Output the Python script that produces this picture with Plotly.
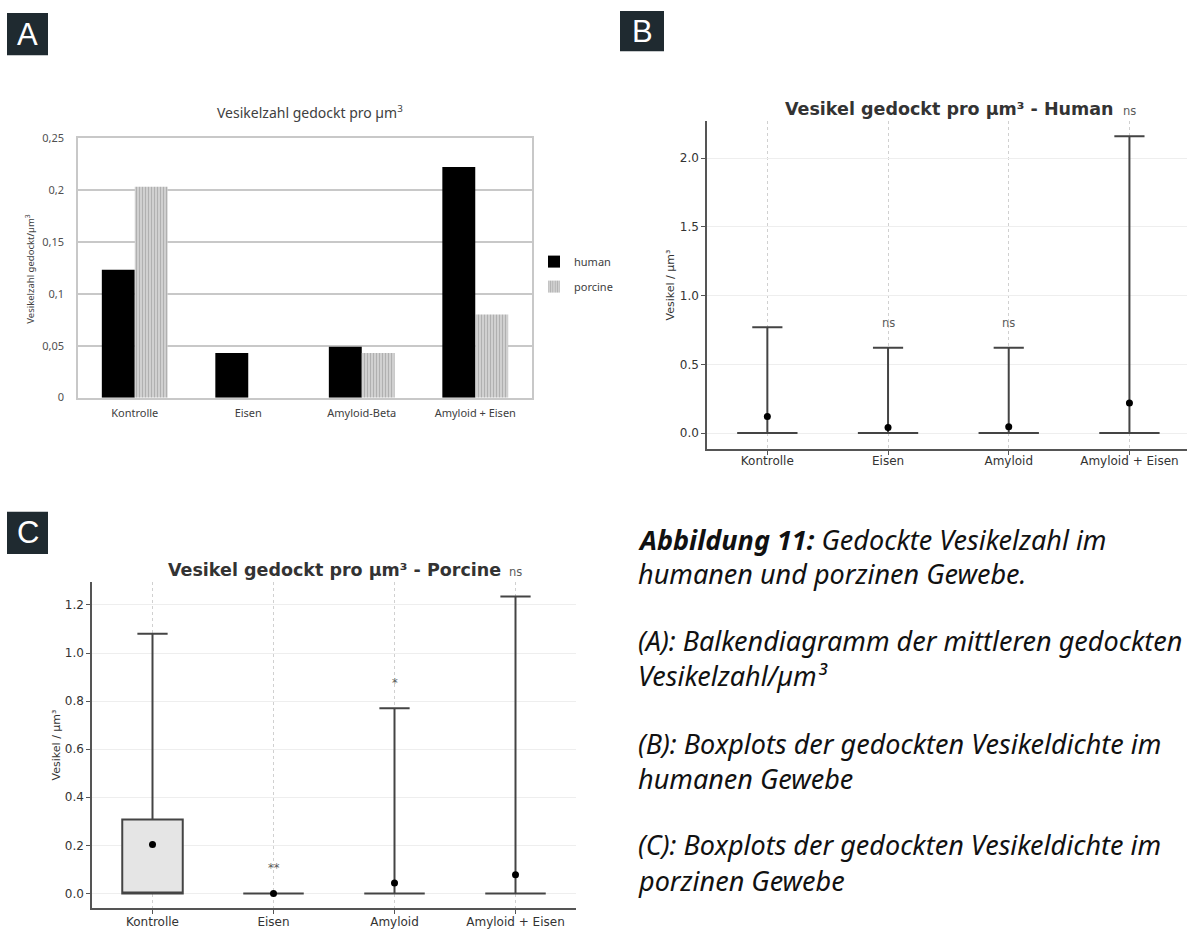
import plotly.graph_objects as go

W, H = 1187, 933

# ---------------- data ----------------
# Panel A: bar chart of mean docked vesicles per µm³
a_categories = ["Kontrolle", "Eisen", "Amyloid-Beta", "Amyloid + Eisen"]
a_human = [0.123, 0.043, 0.049, 0.222]
a_porcine = [0.203, 0.0, 0.043, 0.080]
a_tickvals = [0, 0.05, 0.1, 0.15, 0.2, 0.25]
a_ticktext = ["0", "0,05", "0,1", "0,15", "0,2", "0,25"]

# Panel B: human boxplots (precomputed statistics)
box_categories = ["Kontrolle", "Eisen", "Amyloid", "Amyloid + Eisen"]
b_q1 = [0.0, 0.0, 0.0, 0.0]
b_median = [0.0, 0.0, 0.0, 0.0]
b_q3 = [0.0, 0.0, 0.0, 0.0]
b_lower = [0.0, 0.0, 0.0, 0.0]
b_upper = [0.77, 0.62, 0.62, 2.16]
b_mean = [0.12, 0.04, 0.045, 0.218]
b_sig = ["", "ns", "ns", "ns"]

# Panel C: porcine boxplots (precomputed statistics)
c_q1 = [0.0, 0.0, 0.0, 0.0]
c_median = [0.0, 0.0, 0.0, 0.0]
c_q3 = [0.307, 0.0, 0.0, 0.0]
c_lower = [0.0, 0.0, 0.0, 0.0]
c_upper = [1.08, 0.0, 0.77, 1.235]
c_mean = [0.203, 0.0, 0.043, 0.078]
c_sig = ["", "**", "*", "ns"]

caption_lines = [
    "<b><i>Abbildung 11:</i></b><i> Gedockte Vesikelzahl im</i>",
    "<i>humanen und porzinen Gewebe.</i>",
    "<i>(A): Balkendiagramm der mittleren gedockten</i>",
    "<i>Vesikelzahl/µm³</i>",
    "<i>(B): Boxplots der gedockten Vesikeldichte im</i>",
    "<i>humanen Gewebe</i>",
    "<i>(C): Boxplots der gedockten Vesikeldichte im</i>",
    "<i>porzinen Gewebe</i>",
]
caption_y_px = [540, 575, 643, 678, 748, 783, 850, 887]


def fx(p):
    return p / W


def fy(p):
    return 1 - p / H


fig = go.Figure()

# ---------------- Panel A ----------------
fig.add_trace(go.Bar(
    x=a_categories, y=a_human, name="human",
    marker=dict(color="#000000", line=dict(width=0)),
    xaxis="x", yaxis="y", legendgroup="h", hoverinfo="skip",
))
fig.add_trace(go.Bar(
    x=a_categories, y=a_porcine, name="porcine",
    marker=dict(color="#d4d4d4", line=dict(width=0),
                pattern=dict(shape="|", fgcolor="#8c8c8c", bgcolor="#d4d4d4",
                             size=3, solidity=0.4)),
    xaxis="x", yaxis="y", legendgroup="p", hoverinfo="skip",
))

# ---------------- Panel B ----------------
box_line = dict(color="#444444", width=2)
fig.add_trace(go.Box(
    x=box_categories, q1=b_q1, median=b_median, q3=b_q3,
    lowerfence=b_lower, upperfence=b_upper,
    width=0.5, whiskerwidth=0.5, line=box_line, fillcolor="#e5e5e5",
    boxpoints=False, showlegend=False, hoverinfo="skip",
    xaxis="x2", yaxis="y2",
))
fig.add_trace(go.Scatter(
    x=box_categories, y=b_mean, mode="markers",
    marker=dict(color="#000000", size=7), showlegend=False, hoverinfo="skip",
    xaxis="x2", yaxis="y2",
))

# ---------------- Panel C ----------------
fig.add_trace(go.Box(
    x=box_categories, q1=c_q1, median=c_median, q3=c_q3,
    lowerfence=c_lower, upperfence=c_upper,
    width=0.5, whiskerwidth=0.5, line=box_line, fillcolor="#e5e5e5",
    boxpoints=False, showlegend=False, hoverinfo="skip",
    xaxis="x3", yaxis="y3",
))
fig.add_trace(go.Scatter(
    x=box_categories, y=c_mean, mode="markers",
    marker=dict(color="#000000", size=7), showlegend=False, hoverinfo="skip",
    xaxis="x3", yaxis="y3",
))

annotations = []

sig_font = dict(family="DejaVu Sans", size=11.5, color="#5a5a5a")
for cat, top, s in zip(box_categories, b_upper, b_sig):
    if s:
        annotations.append(dict(x=cat, y=top, xref="x2", yref="y2", text=s,
                                showarrow=False, yshift=25, yanchor="middle", font=sig_font))
for cat, top, s in zip(box_categories, c_upper, c_sig):
    if s:
        annotations.append(dict(x=cat, y=top, xref="x3", yref="y3", text=s,
                                showarrow=False, yshift=25, yanchor="middle", font=sig_font))

# titles
annotations.append(dict(x=fx(310), y=fy(106), xref="paper", yref="paper",
                        text="Vesikelzahl gedockt pro µm<sup>3</sup>", showarrow=False,
                        xanchor="center", yanchor="middle",
                        font=dict(family="Noto Sans", size=14, color="#404040")))
annotations.append(dict(x=fx(30), y=fy(265), xref="paper", yref="paper",
                        text="Vesikelzahl gedockt/µm<sup>3</sup>", showarrow=False,
                        textangle=-90, xanchor="center", yanchor="middle",
                        font=dict(family="Noto Sans", size=9.5, color="#404040")))
annotations.append(dict(x=fx(949), y=fy(103), xref="paper", yref="paper",
                        text="<b>Vesikel gedockt pro µm³ - Human</b>", showarrow=False,
                        xanchor="center", yanchor="middle",
                        font=dict(family="DejaVu Sans", size=17.5, color="#333333")))
annotations.append(dict(x=fx(334), y=fy(571), xref="paper", yref="paper",
                        text="<b>Vesikel gedockt pro µm³ - Porcine</b>", showarrow=False,
                        xanchor="center", yanchor="middle",
                        font=dict(family="DejaVu Sans", size=17.5, color="#333333")))

# panel letters
shapes = []
for letter, (x0, y0, x1, y1) in zip(["A", "B", "C"],
                                     [(7, 5, 48, 48), (620, 3, 664, 44), (7, 512, 48, 555)]):
    shapes.append(dict(type="rect", xref="paper", yref="paper",
                       x0=fx(x0), x1=fx(x1), y0=fy(y1), y1=fy(y0),
                       fillcolor="#1f2a30", line=dict(width=0), layer="above"))
    annotations.append(dict(x=fx((x0 + x1) / 2), y=fy((y0 + y1) / 2), xref="paper", yref="paper",
                            text=letter, showarrow=False, xanchor="center", yanchor="middle",
                            font=dict(family="Liberation Sans", size=31, color="#ffffff")))

# caption
for line, ypx in zip(caption_lines, caption_y_px):
    annotations.append(dict(x=fx(636), y=fy(ypx), xref="paper", yref="paper",
                            text=line, showarrow=False, xanchor="left", yanchor="middle",
                            font=dict(family="Noto Sans", size=27, color="#111111")))

mpl_tick = dict(family="DejaVu Sans", size=12, color="#333333")

fig.update_layout(
    width=W, height=H, margin=dict(l=0, r=0, t=0, b=0),
    paper_bgcolor="white", plot_bgcolor="white",
    barmode="group", bargap=0.42, bargroupgap=0,
    showlegend=True,
    legend=dict(x=fx(534), y=fy(243), xanchor="left", yanchor="top",
                font=dict(family="Noto Sans", size=11, color="#404040"),
                bgcolor="rgba(0,0,0,0)", traceorder="grouped", tracegroupgap=6,
                itemwidth=30),
    annotations=annotations, shapes=shapes,
    # Panel A axes
    xaxis=dict(domain=[fx(78), fx(532)], anchor="y", type="category",
               showline=True, mirror=True, linecolor="#c8c8c8", linewidth=1.5,
               showgrid=False, ticks="", ticklabelstandoff=4,
               tickfont=dict(family="Noto Sans", size=11, color="#404040")),
    yaxis=dict(domain=[fy(396), fy(132)], anchor="x", range=[0, 0.25],
               tickvals=a_tickvals, ticktext=a_ticktext,
               showline=True, mirror=True, linecolor="#c8c8c8", linewidth=1.5,
               showgrid=True, gridcolor="#c8c8c8", gridwidth=1.5, zeroline=False,
               ticks="", ticklabelstandoff=10,
               tickfont=dict(family="Noto Sans", size=11, color="#505050")),
    # Panel B axes
    xaxis2=dict(domain=[fx(707), 1.0], anchor="y2", type="category",
                range=[-0.5, 3.477], showline=True, linecolor="#555555", linewidth=1.5,
                showgrid=True, gridcolor="#d0d0d0", griddash="dot", gridwidth=1,
                ticks="outside", ticklen=4, tickcolor="#555555", tickfont=mpl_tick,
                ticklabelstandoff=-4),
    yaxis2=dict(domain=[fy(448), fy(115)], anchor="x2", range=[-0.115, 2.27],
                dtick=0.5, tick0=0, tickformat=".1f",
                showline=True, linecolor="#555555", linewidth=1.5,
                showgrid=True, gridcolor="#eeeeee", gridwidth=1, zeroline=False,
                ticks="outside", ticklen=4, tickcolor="#555555", tickfont=mpl_tick,
                title=dict(text="Vesikel / µm³", standoff=3,
                           font=dict(family="DejaVu Sans", size=11, color="#333333"))),
    # Panel C axes
    xaxis3=dict(domain=[fx(92), fx(576)], anchor="y3", type="category",
                range=[-0.5, 3.5], showline=True, linecolor="#555555", linewidth=1.5,
                showgrid=True, gridcolor="#d0d0d0", griddash="dot", gridwidth=1,
                ticks="outside", ticklen=4, tickcolor="#555555", tickfont=mpl_tick,
                ticklabelstandoff=-2),
    yaxis3=dict(domain=[fy(915), fy(583)], anchor="x3", range=[-0.062, 1.297],
                dtick=0.2, tick0=0, tickformat=".1f",
                showline=True, linecolor="#555555", linewidth=1.5,
                showgrid=True, gridcolor="#eeeeee", gridwidth=1, zeroline=False,
                ticks="outside", ticklen=4, tickcolor="#555555", tickfont=mpl_tick,
                title=dict(text="Vesikel / µm³", standoff=2,
                           font=dict(family="DejaVu Sans", size=11, color="#333333"))),
)

fig.write_html("out.html", config={"displayModeBar": False},
               post_script="document.body.style.margin='0';document.body.style.overflow='hidden';")
